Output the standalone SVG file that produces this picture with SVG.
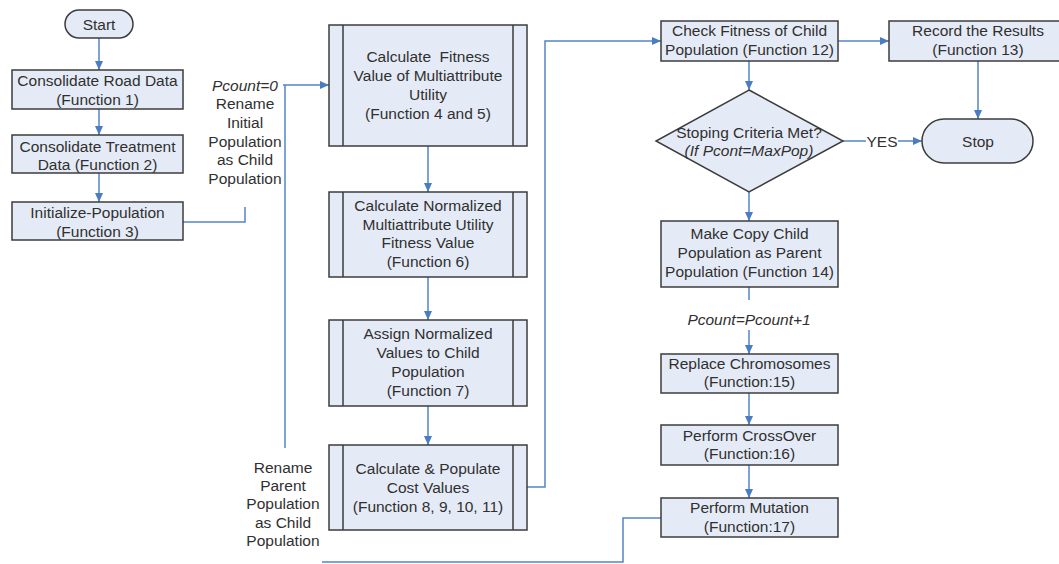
<svg xmlns="http://www.w3.org/2000/svg" width="1059" height="564" viewBox="0 0 1059 564">
  <style>
    .box { fill: #e5ebf6; stroke: #3c3c3c; stroke-width: 1.5; }
    .sub { fill: none; stroke: #3c3c3c; stroke-width: 1.5; }
    .t { font-family: "Liberation Sans", Arial, sans-serif; font-size: 15.5px; fill: #303030; text-anchor: middle; }
    .i { font-style: italic; }
    .c { fill: none; stroke: #5584c6; stroke-width: 1.5; }
    .a { fill: none; stroke: #5584c6; stroke-width: 1.5; marker-end: url(#arr); }
  </style>
  <defs>
    <marker id="arr" markerUnits="userSpaceOnUse" markerWidth="10" markerHeight="10" refX="9" refY="4" orient="auto">
      <path d="M0,0 L9,4 L0,8 Z" fill="#4a7cc2"/>
    </marker>
  </defs>
  <rect width="1059" height="564" fill="#ffffff"/>

  <!-- connectors -->
  <g id="connectors">
    <path class="a" d="M99,38 V70"/>
    <path class="a" d="M99,109 V135"/>
    <path class="a" d="M99,173 V202"/>
    <path class="c" d="M183,222 H245 V207"/>
    <path class="a" d="M283,85 H329"/>
    <path class="c" d="M285,85 V448"/>
    <path class="a" d="M428,146 V192"/>
    <path class="a" d="M428,277 V320"/>
    <path class="a" d="M428,406 V445"/>
    <path class="a" d="M527,487 H545 V41 H661"/>
    <path class="a" d="M838,41 H889"/>
    <path class="a" d="M749,61 V90"/>
    <path class="c" d="M843,141 H866"/>
    <path class="a" d="M898,141 H922"/>
    <path class="a" d="M978,61 V119"/>
    <path class="a" d="M749,192 V221"/>
    <path class="c" d="M749,287 V300"/>
    <path class="a" d="M749,330 V354"/>
    <path class="a" d="M749,393 V425"/>
    <path class="a" d="M749,465 V498"/>
    <path class="c" d="M661,518 H623 V562 H322"/>
    <text class="t" x="882" y="146.5">YES</text>
    <text class="t i" x="749" y="324.5">Pcount=Pcount+1</text>
  </g>

  <!-- left column -->
  <g id="start">
    <rect class="box" x="65" y="10" width="68" height="28" rx="14"/>
    <text class="t" x="99" y="29.5">Start</text>
  </g>
  <g id="f1">
    <rect class="box" x="12" y="70" width="171" height="39"/>
    <text class="t" x="97.5" y="85.5">Consolidate Road Data</text>
    <text class="t" x="97.5" y="104.5">(Function 1)</text>
  </g>
  <g id="f2">
    <rect class="box" x="12" y="135" width="171" height="38"/>
    <text class="t" x="97.5" y="151.5">Consolidate Treatment</text>
    <text class="t" x="97.5" y="170">Data (Function 2)</text>
  </g>
  <g id="f3">
    <rect class="box" x="12" y="202" width="171" height="38"/>
    <text class="t" x="97.5" y="217.5">Initialize-Population</text>
    <text class="t" x="97.5" y="236.5">(Function 3)</text>
  </g>

  <g id="label-init">
    <text class="t i" x="245" y="90.5">Pcount=0</text>
    <text class="t" x="245" y="109">Rename</text>
    <text class="t" x="245" y="127.5">Initial</text>
    <text class="t" x="245" y="146.5">Population</text>
    <text class="t" x="245" y="164.5">as Child</text>
    <text class="t" x="245" y="183.5">Population</text>
  </g>

  <g id="label-parent">
    <text class="t" x="283" y="472.5">Rename</text>
    <text class="t" x="283" y="490.5">Parent</text>
    <text class="t" x="283" y="508.5">Population</text>
    <text class="t" x="283" y="527.5">as Child</text>
    <text class="t" x="283" y="545.5">Population</text>
  </g>

  <!-- middle column: predefined processes -->
  <g id="f4-5">
    <rect class="box" x="329" y="25" width="198" height="121"/>
    <path class="sub" d="M343,25 V146 M513,25 V146"/>
    <text class="t" x="428" y="62" xml:space="preserve">Calculate  Fitness</text>
    <text class="t" x="428" y="81">Value of Multiattribute</text>
    <text class="t" x="428" y="99.5">Utility</text>
    <text class="t" x="428" y="118.5">(Function 4 and 5)</text>
  </g>
  <g id="f6">
    <rect class="box" x="329" y="192" width="198" height="85"/>
    <path class="sub" d="M343,192 V277 M513,192 V277"/>
    <text class="t" x="428" y="210.5">Calculate Normalized</text>
    <text class="t" x="428" y="229.5">Multiattribute Utility</text>
    <text class="t" x="428" y="248">Fitness Value</text>
    <text class="t" x="428" y="266.5">(Function 6)</text>
  </g>
  <g id="f7">
    <rect class="box" x="329" y="320" width="198" height="86"/>
    <path class="sub" d="M343,320 V406 M513,320 V406"/>
    <text class="t" x="428" y="338.5">Assign Normalized</text>
    <text class="t" x="428" y="357.5">Values to Child</text>
    <text class="t" x="428" y="376.5">Population</text>
    <text class="t" x="428" y="395.5">(Function 7)</text>
  </g>
  <g id="f8-11">
    <rect class="box" x="329" y="445" width="198" height="85"/>
    <path class="sub" d="M343,445 V530 M513,445 V530"/>
    <text class="t" x="428" y="473.5">Calculate &amp; Populate</text>
    <text class="t" x="428" y="492.5">Cost Values</text>
    <text class="t" x="428" y="511.5">(Function 8, 9, 10, 11)</text>
  </g>

  <!-- right column -->
  <g id="f12">
    <rect class="box" x="661" y="21" width="177" height="40"/>
    <text class="t" x="749.5" y="35.5">Check Fitness of Child</text>
    <text class="t" x="749.5" y="54.5">Population (Function 12)</text>
  </g>
  <g id="f13">
    <rect class="box" x="889" y="21" width="178" height="40"/>
    <text class="t" x="978" y="35.5">Record the Results</text>
    <text class="t" x="978" y="54.5">(Function 13)</text>
  </g>
  <g id="decision">
    <polygon class="box" points="749,90 843,141 749,192 656,141"/>
    <text class="t" x="749" y="137.5">Stoping Criteria Met?</text>
    <text class="t i" x="749" y="155.5">(If Pcont=MaxPop)</text>
  </g>
  <g id="stop">
    <rect class="box" x="922" y="119" width="111" height="44" rx="22"/>
    <text class="t" x="978" y="146.5">Stop</text>
  </g>
  <g id="f14">
    <rect class="box" x="661" y="221" width="177" height="66"/>
    <text class="t" x="749.5" y="238.5">Make Copy Child</text>
    <text class="t" x="749.5" y="257.5">Population as Parent</text>
    <text class="t" x="749.5" y="276.5">Population (Function 14)</text>
  </g>
  <g id="f15">
    <rect class="box" x="661" y="354" width="177" height="39"/>
    <text class="t" x="749.5" y="368.5">Replace Chromosomes</text>
    <text class="t" x="749.5" y="386.5">(Function:15)</text>
  </g>
  <g id="f16">
    <rect class="box" x="661" y="425" width="177" height="40"/>
    <text class="t" x="749.5" y="440.5">Perform CrossOver</text>
    <text class="t" x="749.5" y="458.5">(Function:16)</text>
  </g>
  <g id="f17">
    <rect class="box" x="661" y="498" width="177" height="39"/>
    <text class="t" x="749.5" y="512.5">Perform Mutation</text>
    <text class="t" x="749.5" y="531.5">(Function:17)</text>
  </g>
</svg>
